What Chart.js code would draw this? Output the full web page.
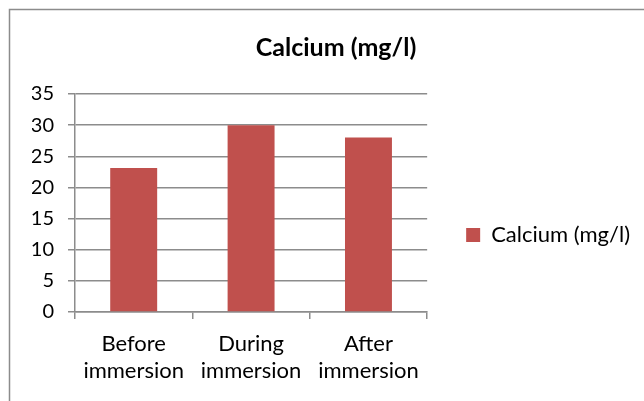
<!DOCTYPE html>
<html><head><meta charset="utf-8">
<script src="https://cdn.jsdelivr.net/npm/chart.js@4/dist/chart.umd.min.js"></script>
<style>html,body{margin:0;padding:0;background:#fff}#w{width:644px;height:401px}</style>
</head><body><div id="w"><canvas id="c" width="644" height="401"></canvas></div>
<script>
const categories = [["Before", "immersion"], ["During", "immersion"], ["After", "immersion"]];
const calcium = [23.1, 30, 28];
const seriesName = "Calcium (mg/l)";
const chartTitle = "Calcium (mg/l)";
const yMin = 0, yMax = 35, yStep = 5;

const FONT = "Lato, 'Open Sans', sans-serif";
const GRID = "#8c8c8c";

const frame = {
  id: 'frame',
  beforeDraw(chart) {
    const ctx = chart.ctx;
    ctx.save();
    ctx.fillStyle = '#fff';
    ctx.fillRect(0, 0, chart.width, chart.height);
    ctx.strokeStyle = '#8c8c8c';
    ctx.lineWidth = 1.5;
    ctx.beginPath();
    ctx.moveTo(9.5, chart.height);
    ctx.lineTo(9.5, 9.5);
    ctx.lineTo(chart.width, 9.5);
    ctx.stroke();
    ctx.restore();
  }
};

// let the right-hand legend take the width its text needs
const legendWidthFix = {
  id: 'legendWidthFix',
  beforeLayout(chart) {
    const lg = chart.legend;
    if (lg && !lg._wfix) {
      const orig = lg.update;
      lg.update = function (maxW, maxH, margins) { return orig.call(this, Math.max(maxW, 260), maxH, margins); };
      lg._wfix = true;
    }
  }
};

new Chart(document.getElementById('c'), {
  type: 'bar',
  data: {
    labels: categories,
    datasets: [{
      label: seriesName,
      data: calcium,
      backgroundColor: '#C0504D',
      borderWidth: 0,
      barPercentage: 0.4,
      categoryPercentage: 1.0
    }]
  },
  options: {
    responsive: false,
    animation: false,
    devicePixelRatio: 1,
    layout: { padding: { left: 32, right: 4, top: 0, bottom: 0 } },
    plugins: {
      title: {
        display: true,
        text: chartTitle,
        color: '#000',
        font: { family: FONT, size: 25, weight: 'bold', lineHeight: '30px' },
        padding: { top: 33, bottom: 31 }
      },
      legend: {
        position: 'right',
        title: { display: true, text: ' ', font: { size: 10, lineHeight: '12px' }, padding: { top: 0, bottom: 57 } },
        labels: {
          boxWidth: 14, boxHeight: 14, padding: 10, color: '#000',
          font: { family: FONT, size: 22 }
        }
      },
      tooltip: { enabled: false }
    },
    scales: {
      x: {
        grid: { display: true, drawOnChartArea: false, drawTicks: true, tickLength: 7, color: GRID, lineWidth: 1.5, offset: true },
        border: { display: true, color: GRID, width: 1.5 },
        ticks: { color: '#000', padding: 11, maxRotation: 0, font: { family: FONT, size: 22, lineHeight: '27px' } },
        afterFit(s) { s.height = 89; }
      },
      y: {
        min: yMin, max: yMax,
        grid: { color: GRID, lineWidth: 1.5, tickLength: 7 },
        border: { display: true, color: GRID, width: 1.5 },
        ticks: { stepSize: yStep, color: '#000', padding: 14, font: { family: FONT, size: 20 } },
        afterFit(s) { s.width = 43; }
      },
      yR: {
        type: 'linear', position: 'right', display: true,
        grid: { display: false, drawTicks: false },
        border: { display: false },
        ticks: { display: false },
        afterFit(s) { s.width = 29; }
      }
    }
  },
  plugins: [frame, legendWidthFix]
});
</script>
</body></html>
